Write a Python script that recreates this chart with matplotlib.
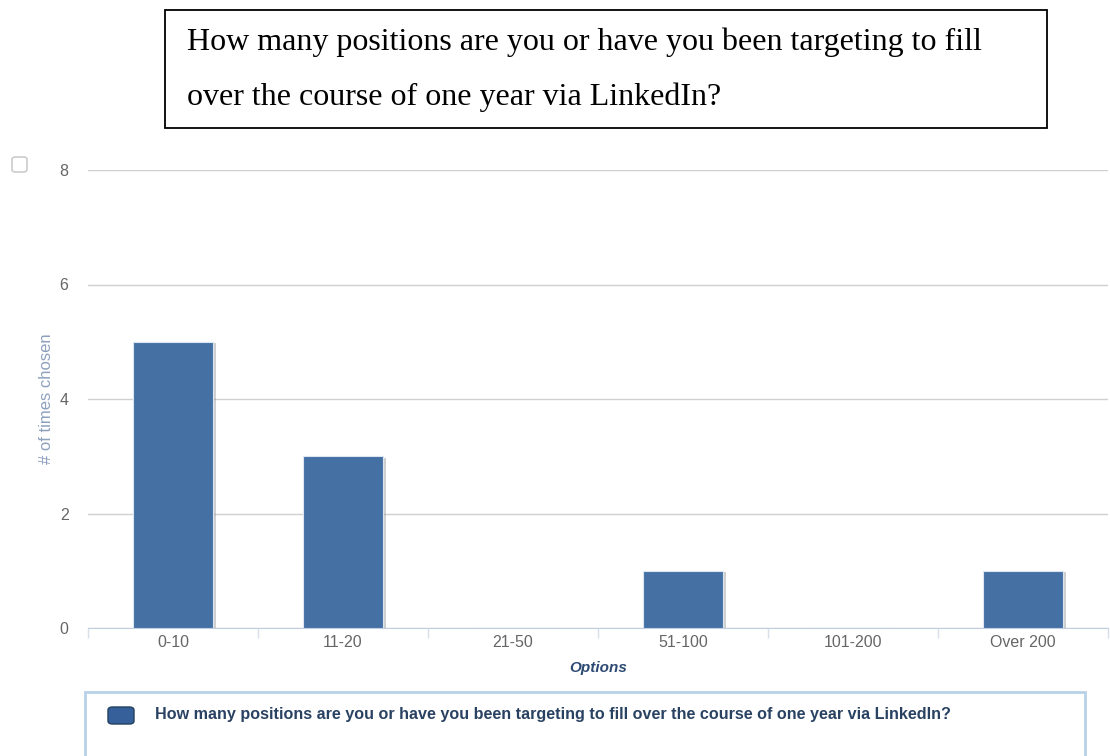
import matplotlib.pyplot as plt
import matplotlib.patheffects as pe
from matplotlib.patches import Rectangle, FancyBboxPatch

plt.rcParams['font.family'] = ['Liberation Sans', 'DejaVu Sans']

# data
options = ["0-10", "11-20", "21-50", "51-100", "101-200", "Over 200"]
counts = [5, 3, 0, 1, 0, 1]
question = "How many positions are you or have you been targeting to fill over the course of one year via LinkedIn?"
title_lines = ["How many positions are you or have you been targeting to fill",
               "over the course of one year via LinkedIn?"]

fig = plt.figure(figsize=(11.1, 7.56), dpi=100)
ax = fig.add_axes([88 / 1110, 1 - 628 / 756, 1020 / 1110, 458 / 756])

x = range(len(options))
bars = ax.bar(x, counts, width=0.47, color="#4470a3", edgecolor="#dbe6f2", linewidth=0.8, zorder=3)
for b in bars:
    b.set_path_effects([pe.SimplePatchShadow(offset=(2.5, -1), shadow_rgbFace="#888888", alpha=0.4), pe.Normal()])

ax.set_xlim(-0.5, len(options) - 0.5)
ax.set_ylim(0, 8)
ax.set_yticks([0, 2, 4, 6, 8])
ax.yaxis.grid(True, color="#d0d0d0", linewidth=1)
ax.set_axisbelow(True)
for s in ["top", "right", "left"]:
    ax.spines[s].set_visible(False)
ax.spines["bottom"].set_color("#c0d0e0")
ax.tick_params(axis="y", length=0, pad=14, labelsize=11.5, labelcolor="#666666")
ax.set_xticks(list(x))
ax.set_xticklabels(options)
ax.tick_params(axis="x", length=0, pad=5, labelsize=11.5, labelcolor="#666666")
# category boundary ticks
ax.set_xticks([i - 0.5 for i in range(len(options) + 1)], minor=True)
ax.tick_params(axis="x", which="minor", length=7, color="#d5e0ea", width=1)

ax.set_ylabel("# of times chosen", color="#8da0bd", fontsize=12, labelpad=4)
ax.set_xlabel("Options", color="#2d4a73", fontsize=11, fontweight="bold", fontstyle="italic", labelpad=8)

# title box
fig.patches.append(Rectangle((165 / 1110, 1 - 128 / 756), 882 / 1110, 118 / 756,
                             transform=fig.transFigure, fill=False, edgecolor="black", linewidth=1.3))
fig.text(187 / 1110, 1 - 42 / 756, title_lines[0], family="Liberation Serif", fontsize=23, va="center")
fig.text(187 / 1110, 1 - 97 / 756, title_lines[1], family="Liberation Serif", fontsize=23, va="center")

# legend box
fig.patches.append(Rectangle((85 / 1110, -0.02), 1000 / 1110, 1 - 692 / 756 + 0.02,
                             transform=fig.transFigure, fill=False, edgecolor="#b8d0e8", linewidth=2))
fig.patches.append(FancyBboxPatch((108 / 1110, 1 - 724 / 756), 26 / 1110, 17 / 756,
                                  boxstyle="round,pad=0,rounding_size=0.004", transform=fig.transFigure,
                                  facecolor="#36609a", edgecolor="#23405f", linewidth=1))
fig.text(155 / 1110, 1 - 714 / 756, question, fontsize=11.6, fontweight="bold", color="#2a4262", va="center")

# small checkbox icon at top left
fig.patches.append(FancyBboxPatch((12 / 1110, 1 - 172 / 756), 15 / 1110, 15 / 756,
                                  boxstyle="round,pad=0,rounding_size=0.003", transform=fig.transFigure,
                                  facecolor="white", edgecolor="#cccccc", linewidth=1.2))

fig.savefig("out.png", dpi=100)
